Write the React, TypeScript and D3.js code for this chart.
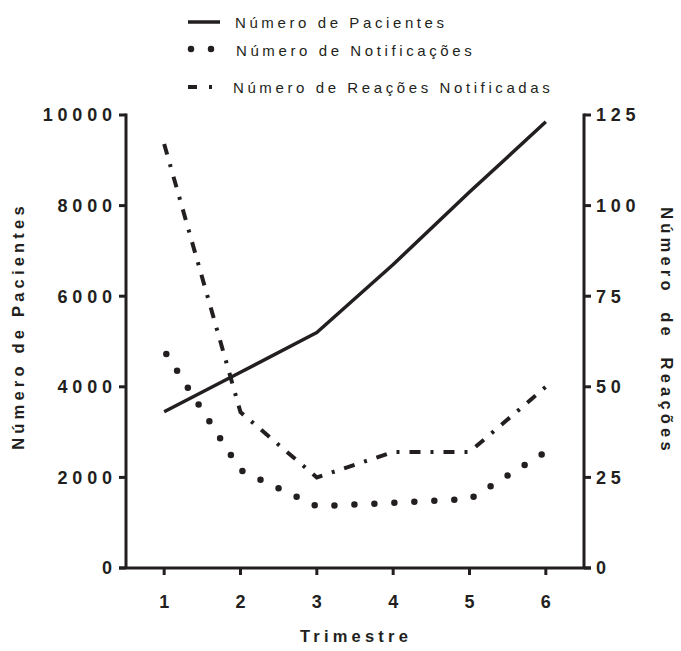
import React from "react";
import * as d3 from "d3";

const trimestres = [1, 2, 3, 4, 5, 6];
const pacientes = [3450, 4320, 5200, 6700, 8300, 9850];
const notificacoes = [60, 27, 17, 18, 19, 32];
const reacoes = [117, 43, 25, 32, 32, 50];
const leftTicks = [0, 2000, 4000, 6000, 8000, 10000];
const rightTicks = [0, 25, 50, 75, 100, 125];

const INK = "#231f20";
const W = 681;
const H = 651;

export default function App() {
  const x = d3.scaleLinear().domain([0.5, 6.5]).range([126, 584]);
  const yL = d3.scaleLinear().domain([0, 10000]).range([568, 115]);
  const yR = d3.scaleLinear().domain([0, 125]).range([568, 115]);

  const linePac = d3
    .line<number>()
    .x((_, i) => x(trimestres[i]))
    .y((d) => yL(d));
  const lineR = d3
    .line<number>()
    .x((_, i) => x(trimestres[i]))
    .y((d) => yR(d));

  const tickFont = {
    fontFamily: "Arial, 'Liberation Sans', sans-serif",
    fontWeight: 700,
    fontSize: 18,
    letterSpacing: 4.8,
    fill: INK,
  } as const;
  const titleFont = {
    fontFamily: "Arial, 'Liberation Sans', sans-serif",
    fontWeight: 700,
    fontSize: 16.5,
    letterSpacing: 4.2,
    fill: INK,
  } as const;
  const legendFont = {
    fontFamily: "Arial, 'Liberation Sans', sans-serif",
    fontWeight: 400,
    fontSize: 15,
    letterSpacing: 3.6,
    fill: INK,
  } as const;

  const dotted = { strokeWidth: 6.5, strokeLinecap: "round" as const, strokeDasharray: "0 20" };
  const dashDot = { strokeWidth: 4, strokeLinecap: "butt" as const, strokeDasharray: "11 10 3 10" };

  const xr = x.range();
  const yr = yL.range();

  return (
    <svg width={W} height={H} style={{ position: "absolute", left: 0, top: 0, background: "#fff" }}>
      {/* legend */}
      <g>
        <line x1={188} x2={220} y1={22} y2={22} stroke={INK} strokeWidth={3.5} />
        <text x={235} y={28} style={legendFont}>Número de Pacientes</text>
        <line x1={191} x2={213} y1={49} y2={49} stroke={INK} {...dotted} />
        <text x={236} y={56} style={legendFont}>Número de Notificações</text>
        <line x1={188} x2={212} y1={87} y2={87} stroke={INK} {...dashDot} strokeDasharray="9 12 3 10" />
        <text x={233} y={93} style={legendFont}>Número de Reações Notificadas</text>
      </g>

      {/* axes */}
      <g stroke={INK} strokeWidth={3} fill="none">
        <line x1={xr[0]} x2={xr[0]} y1={yr[1] - 1.5} y2={yr[0]} />
        <line x1={xr[1]} x2={xr[1]} y1={yr[1] - 1.5} y2={yr[0]} />
        <line x1={xr[0] - 7} x2={xr[1] + 7} y1={yr[0]} y2={yr[0]} />
        {leftTicks.map((t) => (
          <line key={"lt" + t} x1={xr[0] - 7} x2={xr[0]} y1={yL(t)} y2={yL(t)} />
        ))}
        {rightTicks.map((t) => (
          <line key={"rt" + t} x1={xr[1]} x2={xr[1] + 7} y1={yR(t)} y2={yR(t)} />
        ))}
        {trimestres.map((t) => (
          <line key={"xt" + t} x1={x(t)} x2={x(t)} y1={yr[0]} y2={yr[0] + 7} />
        ))}
      </g>

      {leftTicks.map((t) => (
        <text key={"ll" + t} x={xr[0] - 14 + 4.8} y={yL(t)} dy="0.36em" textAnchor="end" style={tickFont}>
          {t}
        </text>
      ))}
      {rightTicks.map((t) => (
        <text key={"rl" + t} x={xr[1] + 12} y={yR(t)} dy="0.36em" textAnchor="start" style={tickFont}>
          {t}
        </text>
      ))}
      {trimestres.map((t) => (
        <text key={"xl" + t} x={x(t) + 2.4} y={yr[0] + 40} textAnchor="middle" style={tickFont}>
          {t}
        </text>
      ))}

      {/* titles */}
      <text x={356} y={642} textAnchor="middle" style={titleFont}>Trimestre</text>
      <text
        transform={`translate(18,${326}) rotate(-90)`}
        dy="0.36em"
        textAnchor="middle"
        style={titleFont}
      >
        Número de Pacientes
      </text>
      <text
        transform={`translate(667,${331}) rotate(90)`}
        dy="0.36em"
        textAnchor="middle"
        style={{ ...titleFont, whiteSpace: "pre" }}
      >
        {"Número  de  Reações"}
      </text>

      {/* series */}
      <path d={linePac(pacientes) || ""} fill="none" stroke={INK} strokeWidth={3.5} strokeLinejoin="round" />
      <path d={lineR(notificacoes) || ""} fill="none" stroke={INK} {...dotted} strokeDashoffset={-4} />
      <path d={lineR(reacoes) || ""} fill="none" stroke={INK} {...dashDot} />
    </svg>
  );
}
